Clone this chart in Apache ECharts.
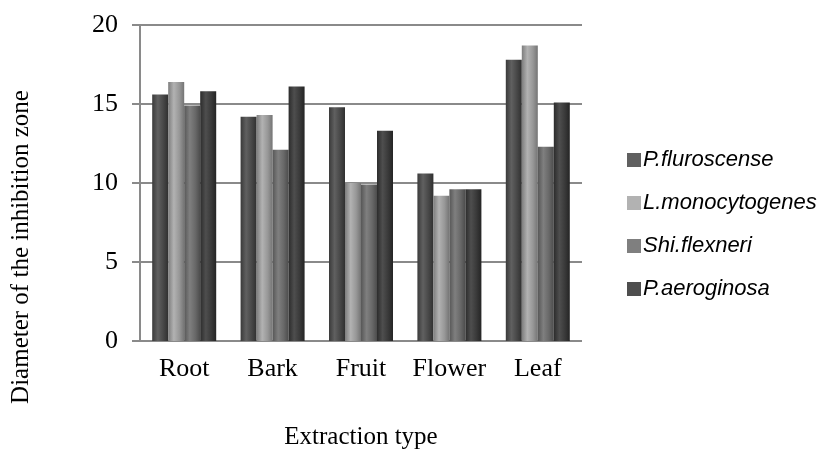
<!DOCTYPE html>
<html>
<head>
<meta charset="utf-8">
<script src="https://cdn.jsdelivr.net/npm/echarts@6/dist/echarts.min.js"></script>
<style>html,body{margin:0;padding:0;background:#fff}#c{width:824px;height:450px}</style>
</head>
<body>
<div id="c"></div>
<script>
var categories = ['Root', 'Bark', 'Fruit', 'Flower', 'Leaf'];
var seriesNames = ['P.fluroscense', 'L.monocytogenes', 'Shi.flexneri', 'P.aeroginosa'];
var pFluroscense = [15.6, 14.2, 14.8, 10.6, 17.8];
var lMonocytogenes = [16.4, 14.3, 10.0, 9.2, 18.7];
var shiFlexneri = [14.9, 12.1, 9.9, 9.6, 12.3];
var pAeroginosa = [15.8, 16.1, 13.3, 9.6, 15.1];
var yTicks = [0, 5, 10, 15, 20];

var baseColors = [
  ['#3a3a3a', '#606060', '#474747', '#303030'],
  ['#7d7d7d', '#b2b2b2', '#979797', '#747474'],
  ['#575757', '#7f7f7f', '#686868', '#4c4c4c'],
  ['#2c2c2c', '#4e4e4e', '#393939', '#242424']
];
function grad(c) {
  return new echarts.graphic.LinearGradient(0, 0, 1, 0, [
    {offset: 0, color: c[0]},
    {offset: 0.35, color: c[1]},
    {offset: 0.7, color: c[2]},
    {offset: 1, color: c[3]}
  ]);
}
var allData = [pFluroscense, lMonocytogenes, shiFlexneri, pAeroginosa];
var series = allData.map(function (d, i) {
  return {
    name: seriesNames[i],
    type: 'bar',
    data: d,
    barWidth: 16,
    barGap: '0%',
    itemStyle: {color: grad(baseColors[i])}
  };
});

var chart = echarts.init(document.getElementById('c'));
chart.setOption({
  animation: false,
  backgroundColor: '#fff',
  grid: {left: 140, right: 242, top: 25, bottom: 109, containLabel: false, outerBoundsMode: 'none'},
  legend: {
    orient: 'vertical',
    left: 622,
    top: 144,
    itemWidth: 14,
    itemHeight: 14,
    itemGap: 21,
    icon: 'rect',
    textStyle: {fontFamily: 'Liberation Sans', fontStyle: 'italic', fontSize: 22, color: '#000', padding: [0, 0, 0, -3]},
    data: seriesNames.map(function (n, i) {
      return {name: n, itemStyle: {color: baseColors[i][1]}};
    })
  },
  graphic: [{
    type: 'text',
    x: 21,
    y: 247,
    rotation: Math.PI / 2,
    style: {
      text: 'Diameter of the inhibition zone',
      fontFamily: 'Liberation Serif', fontSize: 25, fill: '#000',
      align: 'center', verticalAlign: 'middle'
    }
  }],
  xAxis: {
    type: 'category',
    data: categories,
    name: 'Extraction type',
    nameLocation: 'middle',
    nameGap: 84,
    nameTextStyle: {fontFamily: 'Liberation Serif', fontSize: 25, color: '#000'},
    axisLine: {show: false},
    axisTick: {show: false},
    axisLabel: {fontFamily: 'Liberation Serif', fontSize: 26, color: '#000', margin: 15, interval: 0, hideOverlap: false}
  },
  yAxis: {
    type: 'value',
    min: 0,
    max: 20,
    interval: 5,
    axisLine: {show: true, lineStyle: {color: '#8a8a8a', width: 2}},
    axisTick: {show: true, length: 8, lineStyle: {color: '#8a8a8a', width: 2}},
    splitLine: {show: true, lineStyle: {color: '#8a8a8a', width: 2}},
    axisLabel: {
      fontFamily: 'Liberation Serif', fontSize: 26, color: '#000', margin: 22,
      formatter: function (v) { return yTicks.indexOf(v) >= 0 ? String(v) : ''; }
    }
  },
  series: series
});
</script>
</body>
</html>
